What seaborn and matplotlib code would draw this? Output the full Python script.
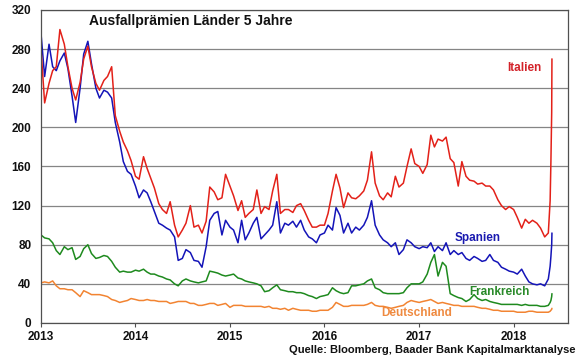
import pandas as pd
import matplotlib.pyplot as plt
import matplotlib.dates as mdates
import seaborn as sns

# --- DATA (5y CDS in bp, semi-monthly readings + the late-May 2018 spike) ---
dates = list(pd.date_range("2013-01-01", periods=130, freq="SMS")) + \
    list(pd.to_datetime(["2018-05-22", "2018-05-25", "2018-05-28", "2018-05-29"]))

italien = [
    280, 225, 245, 258, 262, 300, 285, 262, 240, 228, 246, 270, 283, 262, 245, 238, 248, 252, 262, 212, 196, 185, 176, 166,
    150, 147, 170, 158, 148, 138, 122, 116, 112, 124, 100, 88, 95, 102, 120, 98, 100, 92, 104, 139, 134, 126, 128, 152,
    140, 130, 115, 125, 108, 112, 116, 136, 112, 119, 116, 135, 152, 112, 116, 116, 113, 120, 122, 115, 105, 98, 98, 100,
    100, 112, 135, 152, 138, 118, 133, 128, 127, 130, 135, 146, 175, 143, 130, 126, 133, 129, 150, 139, 143, 160, 178, 163,
    160, 153, 162, 192, 180, 188, 186, 190, 168, 164, 140, 165, 150, 146, 145, 142, 143, 140, 140, 136, 126, 120, 116, 119,
    116, 108, 97, 106, 102, 105, 102, 97, 88, 92,
    125, 165, 215, 270,
]
spanien = [
    296, 252, 285, 262, 258, 268, 276, 260, 232, 205, 240, 275, 288, 265, 240, 230, 238, 236, 230, 205, 185, 165, 155, 152,
    140, 128, 136, 133, 124, 114, 102, 100, 97, 95, 88, 64, 66, 75, 72, 64, 63, 57, 78, 105, 112, 114, 90, 105,
    98, 95, 82, 105, 85, 92, 102, 108, 86, 90, 95, 100, 124, 92, 102, 100, 104, 98, 105, 95, 88, 86, 82, 90,
    92, 100, 95, 118, 110, 92, 102, 92, 98, 95, 100, 108, 125, 100, 90, 85, 82, 78, 82, 70, 75, 85, 82, 78,
    76, 78, 77, 82, 73, 78, 74, 82, 70, 74, 70, 72, 66, 64, 68, 66, 63, 64, 70, 64, 62, 57, 55, 53,
    52, 50, 55, 48, 42, 40, 39, 40, 38, 45,
    58, 68, 80, 92,
]
frankreich = [
    90, 87, 86, 82, 74, 70, 78, 75, 77, 65, 68, 76, 80, 71, 66, 67, 69, 68, 63, 57, 52, 53, 52, 52,
    54, 53, 55, 52, 50, 50, 48, 47, 45, 44, 40, 38, 43, 45, 43, 42, 41, 42, 43, 53, 52, 51, 49, 48,
    49, 50, 46, 45, 43, 42, 41, 40, 38, 32, 33, 36, 39, 34, 33, 32, 32, 31, 31, 30, 28, 27, 25, 27,
    28, 29, 36, 33, 31, 30, 31, 38, 38, 39, 40, 43, 45, 36, 34, 31, 30, 30, 30, 30, 31, 36, 40, 40,
    40, 42, 50, 62, 70, 48, 62, 58, 30, 28, 26, 25, 22, 24, 29, 25, 23, 24, 22, 21, 20, 19, 19, 19,
    19, 19, 18, 19, 18, 18, 18, 17, 17, 18,
    21, 23, 27, 30,
]
deutschland = [
    41, 42, 41, 43, 38, 35, 35, 34, 34, 31, 27, 33, 31, 29, 29, 29, 28, 27, 24, 23, 21, 22, 23, 25,
    24, 23, 23, 24, 23, 23, 22, 22, 22, 20, 21, 22, 22, 22, 20, 20, 18, 18, 19, 20, 20, 18, 19, 20,
    16, 18, 18, 18, 17, 17, 17, 17, 17, 16, 17, 15, 15, 14, 15, 13, 15, 14, 13, 13, 13, 12, 12, 13,
    13, 13, 16, 21, 19, 17, 17, 18, 18, 18, 18, 19, 21, 18, 17, 17, 16, 15, 16, 17, 18, 21, 23, 22,
    21, 22, 23, 24, 22, 20, 21, 20, 19, 18, 18, 17, 17, 17, 17, 16, 15, 15, 14, 13, 13, 12, 12, 12,
    12, 11, 11, 11, 12, 12, 11, 11, 11, 11,
    12, 13, 14, 15,
]

countries = ["Deutschland", "Frankreich", "Spanien", "Italien"]
colors = {"Italien": "#e32119", "Spanien": "#1414b8", "Frankreich": "#1e8a1e", "Deutschland": "#f28432"}
label_colors = {"Italien": "#d3232a", "Spanien": "#1a1ab0", "Frankreich": "#2a8a2a", "Deutschland": "#ef8a40"}

df = pd.DataFrame({"Datum": dates, "Italien": italien, "Spanien": spanien,
                   "Frankreich": frankreich, "Deutschland": deutschland})
long_df = df.melt(id_vars="Datum", var_name="Land", value_name="CDS")

# --- PLOT ---
sns.set_theme(style="white")
plt.rcParams["font.family"] = ["Liberation Sans", "DejaVu Sans"]

fig = plt.figure(figsize=(5.8, 3.58), dpi=100)
ax = fig.add_axes([0.0707, 0.0978, 0.9086, 0.8743])

sns.lineplot(data=long_df, x="Datum", y="CDS", hue="Land", hue_order=countries,
             palette=colors, linewidth=1.1, estimator=None, legend=False, ax=ax)

ax.set_ylim(0, 320)
ax.set_yticks(range(0, 321, 40))
ax.set_xlim(pd.Timestamp("2013-01-01"), pd.Timestamp("2018-07-30"))
ax.xaxis.set_major_locator(mdates.YearLocator())
ax.xaxis.set_major_formatter(mdates.DateFormatter("%Y"))
ax.set_xlabel("")
ax.set_ylabel("")

ax.yaxis.grid(True, color="#858585", linewidth=0.9)
ax.set_axisbelow(True)
for s in ax.spines.values():
    s.set_color("#505050")
    s.set_linewidth(0.9)

ax.tick_params(axis="x", length=3, width=0.8, color="#505050", pad=2.5, labelsize=8.5, bottom=True)
ax.tick_params(axis="y", length=0, pad=7, labelsize=8.5)
for lab in ax.get_xticklabels() + ax.get_yticklabels():
    lab.set_fontweight("bold")
    lab.set_color("#111111")

ax.text(0.091, 0.965, "Ausfallprämien Länder 5 Jahre", transform=ax.transAxes,
        fontsize=10, fontweight="bold", ha="left", va="center", color="#111111")

ax.text(0.917, 0.815, "Italien", transform=ax.transAxes, fontsize=8.5,
        fontweight="bold", ha="center", va="center", color=label_colors["Italien"])
ax.text(0.828, 0.272, "Spanien", transform=ax.transAxes, fontsize=8.5,
        fontweight="bold", ha="center", va="center", color=label_colors["Spanien"])
ax.text(0.869, 0.099, "Frankreich", transform=ax.transAxes, fontsize=8.5,
        fontweight="bold", ha="center", va="center", color=label_colors["Frankreich"])
ax.text(0.713, 0.032, "Deutschland", transform=ax.transAxes, fontsize=8.5,
        fontweight="bold", ha="center", va="center", color=label_colors["Deutschland"])

fig.text(0.993, 0.022, "Quelle: Bloomberg, Baader Bank Kapitalmarktanalyse",
         fontsize=8, fontweight="bold", ha="right", va="center", color="#111111")

fig.savefig("out.png", dpi=100)
